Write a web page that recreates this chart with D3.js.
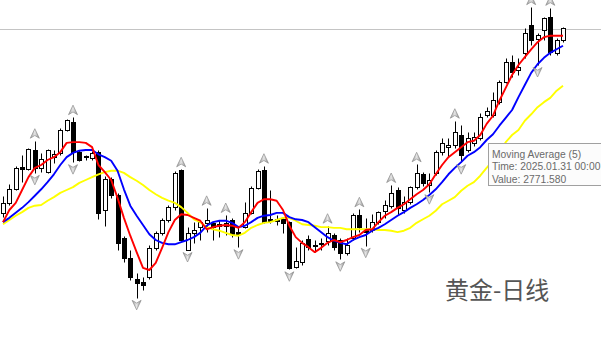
<!DOCTYPE html>
<html>
<head>
<meta charset="utf-8">
<script src="https://cdn.jsdelivr.net/npm/d3@7"></script>
<style>
  body { margin: 0; background: #fff; }
  svg { display: block; overflow: hidden; }
</style>
</head>
<body>
<div id="chart"></div>
<script>
// daily candles, XAUUSD
const opens = [2647,2661,2680,2711,2708,2735,2710,2704,2725,2731, 2763,2774,2732,2725,2724,2732,2651,2694,2672,2612,
  2584,2554,2550,2557,2598,2619,2637,2655,2707,2595, 2619,2627,2633,2633,2629,2629,2637,2620,2627,2647,
  2682,2707,2638,2638,2638,2634,2571,2578,2610,2601, 2605,2608,2616,2609,2591,2612,2644,2624,2623,2634,
  2650,2657,2679,2651,2662,2683,2701,2686,2703,2732, 2739,2742,2756,2735,2745,2752,2784,2784,2802,2830,
  2858,2847,2871,2910,2890,2903,2921,2871,2889];
const highs = [2671,2687,2713,2728,2738,2748,2731,2736,2735,2766, 2778,2781,2735,2728,2734,2735,2699,2697,2675,2615,
  2595,2563,2557,2602,2622,2640,2658,2706,2708,2627, 2634,2637,2654,2634,2637,2644,2640,2627,2662,2685,
  2708,2713,2679,2644,2640,2636,2599,2609,2616,2609, 2612,2629,2619,2612,2612,2647,2652,2640,2645,2650,
  2665,2686,2683,2671,2685,2715,2704,2703,2735,2752, 2752,2776,2770,2760,2760,2787,2795,2816,2833,2864,
  2868,2864,2906,2935,2899,2921,2934,2892,2907];
const lows = [2641,2658,2679,2690,2707,2703,2704,2703,2717,2728, 2762,2718,2720,2721,2721,2638,2629,2668,2595,2578,
  2553,2528,2539,2554,2595,2616,2634,2651,2608,2595, 2605,2609,2620,2609,2613,2616,2613,2599,2626,2645,
  2680,2633,2633,2630,2619,2568,2570,2574,2595,2592, 2595,2602,2595,2582,2588,2609,2620,2601,2620,2631,
  2640,2654,2644,2647,2659,2680,2685,2676,2700,2728, 2725,2738,2718,2732,2741,2749,2781,2781,2799,2829,
  2837,2840,2864,2882,2854,2889,2868,2868,2886];
const closes = [2661,2680,2710,2708,2736,2710,2722,2735,2729,2763, 2777,2732,2721,2727,2731,2647,2694,2672,2605,2584,
  2557,2549,2546,2598,2619,2637,2655,2703,2609,2619, 2623,2634,2637,2627,2631,2633,2617,2617,2647,2682,
  2706,2634,2636,2636,2633,2570,2580,2605,2599,2602, 2603,2619,2599,2591,2602,2644,2627,2620,2634,2648,
  2658,2675,2654,2662,2683,2703,2689,2693,2732,2745, 2742,2760,2728,2752,2753,2781,2790,2805,2830,2858,
  2844,2851,2899,2889,2896,2920,2872,2889,2906];

// moving averages
const ma5 = [2634,2651,2661,2679,2697,2710,2714,2721,2725,2732, 2745,2746,2746,2745,2739,2714,2704,2693,2668,2640,
  2615,2592,2570,2567,2577,2598,2620,2637,2645,2644, 2640,2636,2624,2627,2629,2630,2629,2626,2634,2648,
  2661,2666,2666,2664,2651,2629,2613,2605,2599,2592, 2598,2605,2609,2606,2609,2613,2616,2623,2624,2634,
  2643,2648,2654,2659,2666,2673,2679,2687,2701,2714, 2725,2732,2739,2746,2748,2756,2771.58,2783,2804,2822,
  2840,2854,2865,2876,2886,2893,2895,2895,2895];
const ma10 = [2634,2640,2647,2654,2662,2671,2680,2690,2701,2714, 2725,2731,2734,2735,2735,2729,2725,2720,2706,2680,
  2657,2643,2630,2617,2609,2605,2603,2603,2606,2609, 2613,2619,2629,2634,2636,2636,2633,2627,2629,2634,
  2640,2643,2644,2647,2647,2641,2638,2637,2634,2627, 2620,2613,2608,2605,2603,2609,2613,2616,2622,2626,
  2631,2637,2643,2648,2654,2659,2665,2672,2680,2690, 2701,2710,2718,2727,2732,2739,2749,2757,2769,2780,
  2791,2809,2826,2843,2855,2864,2871,2876,2881];
const ma20 = [2631,2637,2643,2648,2654,2657,2658,2664,2669,2675, 2679,2683,2689,2693,2697,2701,2704,2706,2706,2703,
  2697,2692,2686,2679,2673,2668,2664,2661,2655,2647, 2638,2634,2627,2624,2622,2619,2616,2615,2619,2626,
  2630,2633,2634,2637,2640,2640,2636,2631,2630,2629, 2627,2627,2626,2626,2624,2624,2624,2624,2624,2623,
  2623,2622,2620,2622,2626,2633,2638,2643,2650,2659, 2664,2669,2678,2685,2690,2699,2710,2720,2732,2746,
  2756,2763,2776,2785,2795,2802,2808,2818,2825];

// fractal bars
const upFractals = [5,11,28,32,35,41,51,56,61,65,71,83,86];
const downFractals = [5,11,21,29,37,45,53,57,67,72,84];

const bidPrice = 2904;
const tipIndex = 76;
const tipName = "Moving Average (5)";
const tipTime = "2025.01.31 00:00";
const title = "黄金-日线";

let width = 601;
let height = 337;

let xScale = d3.scaleLinear()
    .domain([0, opens.length - 1])
    .range([3, 563]);

let yScale = d3.scaleLinear()
    .domain([2473.2, 2945])
    .range([height, 0]);

let svg = d3.select("#chart")
    .append("svg")
    .attr("width", width)
    .attr("height", height);

svg.append("rect")
    .attr("width", width)
    .attr("height", height)
    .attr("fill", "#fff");

// bid line
svg.append("line")
    .attr("x1", 0)
    .attr("x2", width)
    .attr("y1", Math.round(yScale(bidPrice)) + 0.5)
    .attr("y2", Math.round(yScale(bidPrice)) + 0.5)
    .attr("stroke", "#c4c4c4")
    .attr("stroke-width", 1);

let cx = i => Math.round(xScale(i));
let py = v => Math.round(yScale(v)) + 0.5;

// wicks
svg.append("g")
    .selectAll("line")
    .data(opens)
    .join("line")
    .attr("x1", (d, i) => cx(i) + 0.5)
    .attr("x2", (d, i) => cx(i) + 0.5)
    .attr("y1", (d, i) => py(highs[i]))
    .attr("y2", (d, i) => py(lows[i]))
    .attr("stroke", "#000")
    .attr("stroke-width", 1);

// bodies
svg.append("g")
    .selectAll("rect")
    .data(opens)
    .join("rect")
    .attr("x", (d, i) => cx(i) - 1.5)
    .attr("y", (d, i) => py(Math.max(opens[i], closes[i])))
    .attr("width", 4)
    .attr("height", (d, i) => Math.max(1, py(Math.min(opens[i], closes[i])) - py(Math.max(opens[i], closes[i]))))
    .attr("fill", (d, i) => closes[i] >= opens[i] ? "#fff" : "#000")
    .attr("stroke", "#000")
    .attr("stroke-width", 1);

// moving averages
let line = d3.line()
    .x((d, i) => xScale(i))
    .y(d => yScale(d));

[[ma20, "#ffff00"], [ma10, "#0000ff"], [ma5, "#ff0000"]].forEach(([s, c]) => {
    svg.append("path")
        .datum(s)
        .attr("d", line)
        .attr("fill", "none")
        .attr("stroke", c)
        .attr("stroke-width", 1.9)
        .attr("stroke-linejoin", "round");
});

// fractal arrows
let defs = svg.append("defs");
let grad = defs.append("linearGradient").attr("id", "fg").attr("x1", 0).attr("x2", 1).attr("y1", 0).attr("y2", 0);
grad.append("stop").attr("offset", "0%").attr("stop-color", "#9a9a9a");
grad.append("stop").attr("offset", "50%").attr("stop-color", "#e6e6e6");
grad.append("stop").attr("offset", "100%").attr("stop-color", "#8a8a8a");

let upPath = "M0,-5 L4.5,4.5 L0,1.8 L-4.5,4.5 Z";
let downPath = "M0,5 L4.5,-4.5 L0,-1.8 L-4.5,-4.5 Z";

svg.append("g")
    .selectAll("path")
    .data(upFractals)
    .join("path")
    .attr("d", upPath)
    .attr("transform", i => `translate(${xScale(i)},${yScale(highs[i]) - 7})`)
    .attr("fill", "url(#fg)")
    .attr("stroke", "#8c8c8c")
    .attr("stroke-width", 0.7);

svg.append("g")
    .selectAll("path")
    .data(downFractals)
    .join("path")
    .attr("d", downPath)
    .attr("transform", i => `translate(${xScale(i)},${yScale(lows[i]) + 7})`)
    .attr("fill", "url(#fg)")
    .attr("stroke", "#8c8c8c")
    .attr("stroke-width", 0.7);

// tooltip
let tip = svg.append("g");
tip.append("rect")
    .attr("x", 488.5)
    .attr("y", 143.5)
    .attr("width", 125)
    .attr("height", 42)
    .attr("fill", "#fcfcfc")
    .attr("stroke", "#a0a0a0");
let tipLines = [tipName, "Time: " + tipTime, "Value: " + d3.format(".3f")(ma5[tipIndex])];
tip.selectAll("text")
    .data(tipLines)
    .join("text")
    .attr("x", 492)
    .attr("y", (d, i) => 157.5 + i * 12.7)
    .attr("font-family", "Liberation Sans, Arial, sans-serif")
    .attr("font-size", "10.3px")
    .attr("fill", "#6a6a6a")
    .text(d => d);

// title
svg.append("text")
    .attr("x", 445)
    .attr("y", 299)
    .attr("font-family", "Noto Sans CJK SC, sans-serif")
    .attr("font-size", "24px")
    .attr("fill", "#555")
    .text(title);
</script>
</body>
</html>
